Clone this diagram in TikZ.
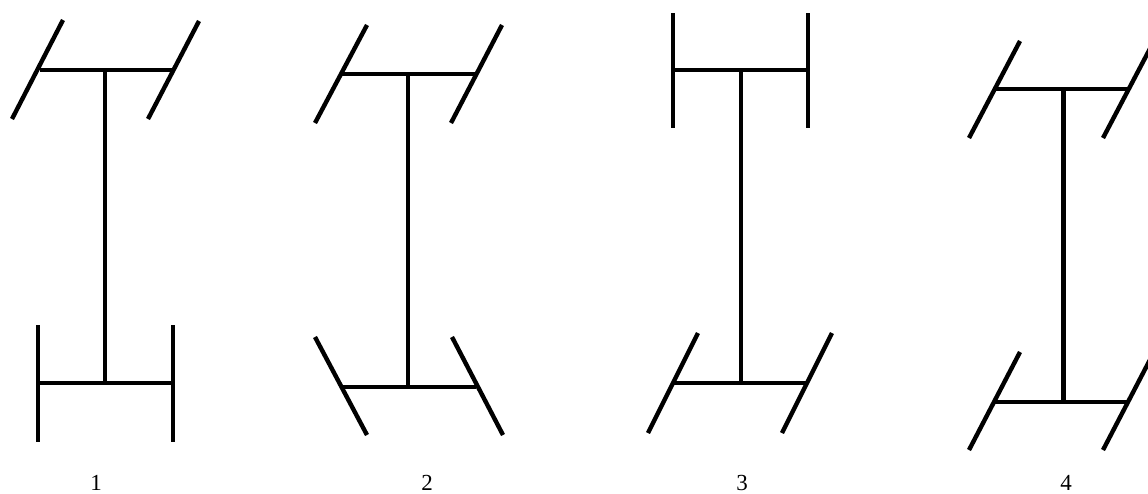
\documentclass[tikz,border=0pt]{standalone}
\usepackage{fontspec}
\setmainfont{Liberation Serif}
\begin{document}
\begin{tikzpicture}[x=1pt,y=-1pt,
  axle/.style={line width=3.8pt},
  shaft/.style={line width=3.4pt},
  wheel/.style={line width=4.4pt},
  lbl/.style={anchor=base,inner sep=0pt,font=\fontsize{23}{26}\selectfont}]
\useasboundingbox (0,0) rectangle (1148,493);
\clip (0,0) rectangle (1148,493);
% ---------- scheme 1 ----------
\draw[axle] (40,70) -- (172,70);
\draw[axle] (38,383) -- (173,383);
\draw[shaft] (105,70) -- (105,383);
\draw[wheel] (12,119) -- (63,20);
\draw[wheel] (148,119) -- (199,21);
\draw[wheel] (38,325) -- (38,442);
\draw[wheel] (173,325) -- (173,442);
\node[lbl] (l1) at (96,490) {1};
% ---------- scheme 2 ----------
\draw[axle] (342,74) -- (476,74);
\draw[axle] (342,387) -- (476,387);
\draw[shaft] (408,74) -- (408,387);
\draw[wheel] (315,123) -- (367,25);
\draw[wheel] (451,123) -- (502,25);
\draw[wheel] (315,337) -- (367,435);
\draw[wheel] (452,337) -- (503,435);
\node[lbl] (l2) at (427,490) {2};
% ---------- scheme 3 ----------
\draw[axle] (673,70) -- (808,70);
\draw[axle] (673,383) -- (807,383);
\draw[shaft] (741,70) -- (741,383);
\draw[wheel] (673,13) -- (673,128);
\draw[wheel] (808,13) -- (808,128);
\draw[wheel] (648,433) -- (698,333);
\draw[wheel] (782,433) -- (832,333);
\node[lbl] (l3) at (742,490) {3};
% ---------- scheme 4 ----------
\draw[axle] (995,89) -- (1129,89);
\draw[axle] (995,402) -- (1129,402);
\draw[shaft,line width=5pt] (1063,89) -- (1063,402);
\draw[wheel] (969,138) -- (1020,41);
\draw[wheel] (1103,138) -- (1154,41);
\draw[wheel] (969,450) -- (1020,352);
\draw[wheel] (1103,450) -- (1154,352);
\node[lbl] (l4) at (1066,490) {4};
\end{tikzpicture}
\end{document}
